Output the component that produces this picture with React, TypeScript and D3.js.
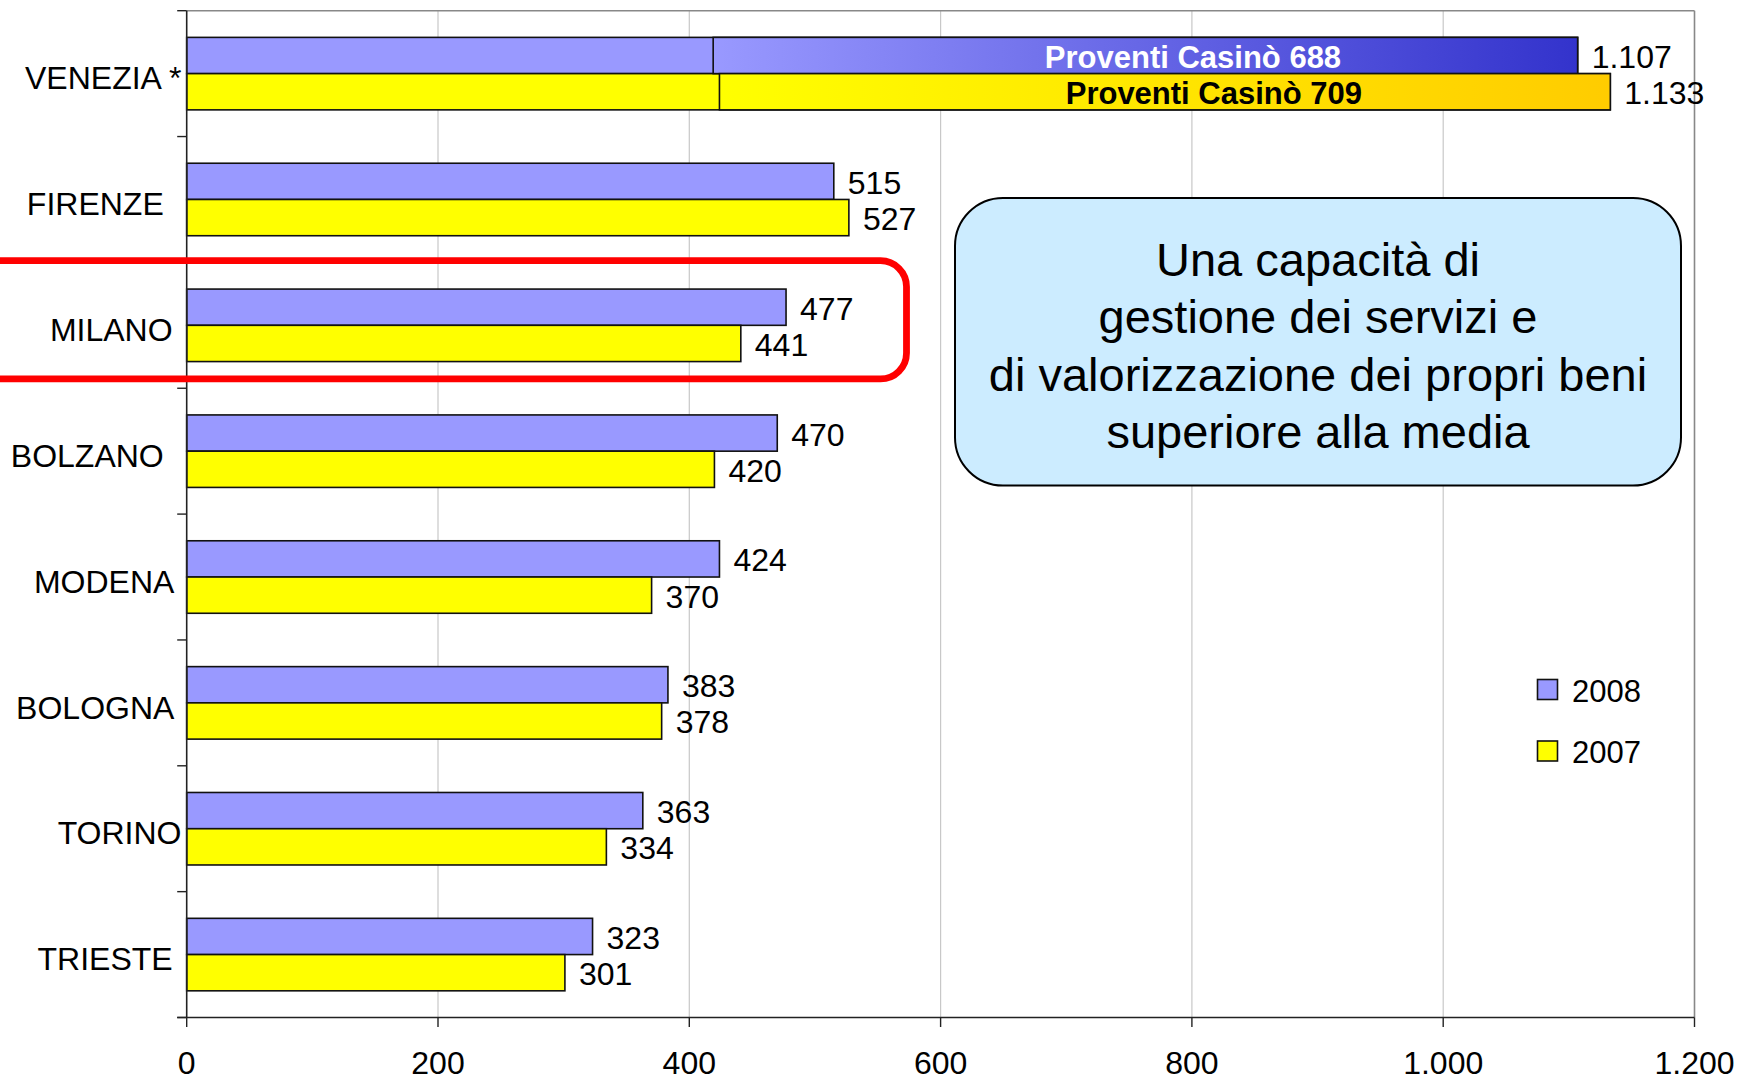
import React from "react";
import * as d3 from "d3";

const categories = ["VENEZIA *", "FIRENZE", "MILANO", "BOLZANO", "MODENA", "BOLOGNA", "TORINO", "TRIESTE"];
const trailingSpaces = [0, 2, 1, 2, 1, 1, 0, 1];
const series = ["2008", "2007"];
const values2008 = [1107, 515, 477, 470, 424, 383, 363, 323];
const values2007 = [1133, 527, 441, 420, 370, 378, 334, 301];
const casinoCategory = "VENEZIA *";
const casino2008 = 688;
const casino2007 = 709;
const highlightCategory = "MILANO";
const xTicks = [0, 200, 400, 600, 800, 1000, 1200];
const calloutLines = [
  "Una capacità di",
  "gestione dei servizi e",
  "di valorizzazione dei propri beni",
  "superiore alla media",
];

const W = 1742;
const H = 1081;
const FONT = "'Liberation Sans', Arial, Helvetica, sans-serif";
const fill2008 = "#9999FF";
const fill2007 = "#FFFF00";

const itLocale = d3.formatLocale({ decimal: ",", thousands: ".", grouping: [3], currency: ["€", ""] });
const fmt = itLocale.format(",d");

export default function App() {
  const plotLeft = 186.7;
  const plotRight = 1694.5;
  const plotTop = 10.7;
  const plotBottom = 1017.5;

  const x = d3.scaleLinear().domain([0, 1200]).range([plotLeft, plotRight]);
  const y = d3
    .scaleBand<string>()
    .domain(categories)
    .range([plotTop, plotBottom])
    .paddingInner(0.424)
    .paddingOuter(0.212);
  const sub = d3.scaleBand<string>().domain(series).range([0, y.bandwidth()]);
  const step = y.step();

  const rows = categories.map((c, i) => ({
    cat: c,
    vals: [
      { s: "2008", v: values2008[i], fill: fill2008 },
      { s: "2007", v: values2007[i], fill: fill2007 },
    ],
  }));

  const boundaries = d3.range(categories.length + 1).map((i) => plotTop + i * step);

  const vIdx = categories.indexOf(casinoCategory);
  const casinoBars = [
    { s: "2008", total: values2008[vIdx], casino: casino2008, grad: "g2008", color: "#FFFFFF" },
    { s: "2007", total: values2007[vIdx], casino: casino2007, grad: "g2007", color: "#000000" },
  ];

  const hy = y(highlightCategory)!;
  const redTop = hy - 28.4;
  const redBottom = hy + y.bandwidth() + 17.4;

  const boxX = 955;
  const boxY = 198;
  const boxW = 726;
  const boxH = 287.5;
  const lineH = 57.4;

  return (
    <svg
      width={W}
      height={H}
      viewBox={`0 0 ${W} ${H}`}
      style={{ position: "absolute", left: 0, top: 0, background: "#fff" }}
      fontFamily={FONT}
    >
      <defs>
        <linearGradient id="g2008" x1="0" x2="1" y1="0" y2="0">
          <stop offset="0" stopColor="#9999FF" />
          <stop offset="1" stopColor="#3333CC" />
        </linearGradient>
        <linearGradient id="g2007" x1="0" x2="1" y1="0" y2="0">
          <stop offset="0" stopColor="#FFFF00" />
          <stop offset="1" stopColor="#FFCC00" />
        </linearGradient>
      </defs>
      <rect x={0} y={0} width={W} height={H} fill="#fff" />

      {/* gridlines */}
      {xTicks.slice(1, -1).map((t) => (
        <line key={t} x1={x(t)} x2={x(t)} y1={plotTop} y2={plotBottom} stroke="#C8C8C8" strokeWidth={1.2} />
      ))}
      {/* plot border top & right */}
      <line x1={plotLeft} x2={plotRight} y1={plotTop} y2={plotTop} stroke="#888" strokeWidth={1.6} />
      <line x1={plotRight} x2={plotRight} y1={plotTop} y2={plotBottom} stroke="#888" strokeWidth={1.6} />

      {/* bars */}
      {rows.map((r) =>
        r.vals.map((d) => (
          <rect
            key={r.cat + d.s}
            x={x(0)}
            y={y(r.cat)! + sub(d.s)!}
            width={x(d.v) - x(0)}
            height={sub.bandwidth()}
            fill={d.fill}
            stroke="#111"
            strokeWidth={1.6}
          />
        ))
      )}

      {/* casino overlays */}
      {casinoBars.map((c) => {
        const yy = y(casinoCategory)! + sub(c.s)!;
        const base = c.total - c.casino;
        return (
          <g key={c.s}>
            <rect
              x={x(base)}
              y={yy}
              width={x(c.total) - x(base)}
              height={sub.bandwidth()}
              fill={`url(#${c.grad})`}
              stroke="#111"
              strokeWidth={1.6}
            />
            <text
              x={x(base + c.casino * 0.555)}
              y={yy + sub.bandwidth() / 2 + 12}
              textAnchor="middle"
              fontSize={31}
              fontWeight="bold"
              fill={c.color}
            >
              {`Proventi Casinò ${c.casino}`}
            </text>
          </g>
        );
      })}

      {/* value labels */}
      {rows.map((r) =>
        r.vals.map((d) => (
          <text
            key={"l" + r.cat + d.s}
            x={x(d.v) + 14}
            y={y(r.cat)! + sub(d.s)! + sub.bandwidth() / 2 + 12.5}
            fontSize={32}
            fill="#000"
          >
            {fmt(d.v)}
          </text>
        ))
      )}

      {/* axes */}
      <line x1={plotLeft} x2={plotLeft} y1={plotTop} y2={plotBottom} stroke="#222" strokeWidth={1.6} />
      {boundaries.map((b, i) => (
        <line key={"yt" + i} x1={plotLeft - 9.5} x2={plotLeft} y1={b} y2={b} stroke="#222" strokeWidth={1.4} />
      ))}
      <line x1={plotLeft - 9.5} x2={plotRight} y1={plotBottom} y2={plotBottom} stroke="#222" strokeWidth={1.6} />
      {xTicks.map((t) => (
        <g key={"xt" + t}>
          <line x1={x(t)} x2={x(t)} y1={plotBottom} y2={plotBottom + 9.5} stroke="#222" strokeWidth={1.4} />
          <text x={x(t)} y={1074} textAnchor="middle" fontSize={32} fill="#000">
            {fmt(t)}
          </text>
        </g>
      ))}

      {/* category labels */}
      {categories.map((c, i) => (
        <text
          key={"c" + c}
          x={181.5}
          y={y(c)! + y.bandwidth() / 2 + 15.7}
          textAnchor="end"
          fontSize={32}
          fill="#000"
          style={{ whiteSpace: "pre" }}
        >
          {c + " ".repeat(trailingSpaces[i])}
        </text>
      ))}

      {/* highlight */}
      <rect
        x={-30}
        y={redTop}
        width={906.5 + 30}
        height={redBottom - redTop}
        rx={26}
        ry={26}
        fill="none"
        stroke="#FF0000"
        strokeWidth={6.8}
      />

      {/* callout */}
      <rect x={boxX} y={boxY} width={boxW} height={boxH} rx={48} ry={48} fill="#CCECFF" stroke="#000" strokeWidth={2} />
      {calloutLines.map((l, i) => (
        <text
          key={"cl" + i}
          x={boxX + boxW / 2}
          y={276 + i * lineH}
          textAnchor="middle"
          fontSize={47}
          fill="#000"
        >
          {l}
        </text>
      ))}

      {/* legend */}
      {series.map((s, i) => (
        <g key={"lg" + s} transform={`translate(1537.5, ${679.5 + i * 61.5})`}>
          <rect x={0} y={0} width={20} height={20} fill={s === "2008" ? fill2008 : fill2007} stroke="#111" strokeWidth={1.6} />
          <text x={34.5} y={22} fontSize={31} fill="#000">
            {s}
          </text>
        </g>
      ))}
    </svg>
  );
}
